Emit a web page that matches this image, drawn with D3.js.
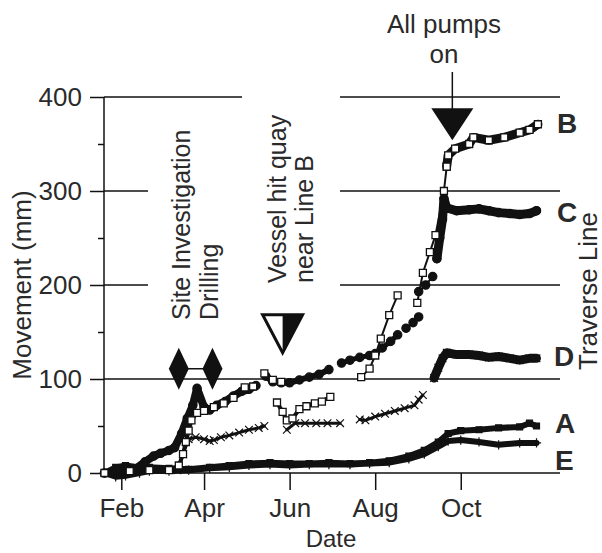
<!DOCTYPE html>
<html>
<head>
<meta charset="utf-8">
<script src="https://cdn.jsdelivr.net/npm/d3@7"></script>
<style>
body { margin: 0; background: #fff; }
text { font-family: "Liberation Sans", Arial, sans-serif; fill: #2a2a2a; }
</style>
</head>
<body>
<div id="chart"></div>
<script>
// values (year is nominal)
const monthTicks = ["2001-02-01", "2001-04-01", "2001-06-01", "2001-08-01", "2001-10-01"];
const monthLabels = ["Feb", "Apr", "Jun", "Aug", "Oct"];
const yTicks = [0, 100, 200, 300, 400];
const yMinor = [50, 150, 250, 350];

// Line B (open squares)
const bEarly = [["2001-01-20",0],["2001-02-07",2],["2001-02-21",3],["2001-03-07",3],["2001-03-14",8],["2001-03-17",20],["2001-03-19",33],["2001-03-21",45],["2001-03-23",56],["2001-03-27",64],["2001-04-01",66],["2001-04-08",70],["2001-04-15",74],["2001-04-22",80],["2001-04-30",91],["2001-05-06",92]];
const bJune = [["2001-05-14",106],["2001-05-20",99],["2001-05-26",97]];
const bVessel = [["2001-05-23",75],["2001-05-27",65],["2001-05-30",56],["2001-06-03",58],["2001-06-08",68],["2001-06-13",71],["2001-06-19",74],["2001-06-24",76],["2001-06-30",81]];
const bAug = [["2001-07-22",102],["2001-07-28",111],["2001-08-01",125],["2001-08-05",143],["2001-08-11",168],["2001-08-17",189]];
const bSep = [["2001-08-31",181],["2001-09-04",213],["2001-09-09",235],["2001-09-13",253],["2001-09-19",300],["2001-09-21",326]];
const bPumps = [["2001-09-21",326],["2001-09-22",338],["2001-09-27",345],["2001-10-07",350],["2001-10-10",357],["2001-10-21",354],["2001-11-01",357],["2001-11-12",362],["2001-11-19",365],["2001-11-25",371]];

// Line C (filled circles)
const cEarly = [["2001-01-20",0],["2001-01-31",1],["2001-02-10",3],["2001-02-18",12],["2001-02-24",18],["2001-03-01",21],["2001-03-07",24],["2001-03-11",27],["2001-03-16",42],["2001-03-20",58],["2001-03-24",72],["2001-03-27",90],["2001-04-01",70],["2001-04-05",67],["2001-04-10",72],["2001-04-16",76],["2001-04-22",82],["2001-04-28",87],["2001-05-03",89],["2001-05-08",93]];
const cJune = [["2001-05-15",103],["2001-05-20",97],["2001-05-26",96],["2001-06-01",96],["2001-06-08",99],["2001-06-15",102],["2001-06-22",105],["2001-06-29",110]];
const cAug = [["2001-07-08",117],["2001-07-14",120],["2001-07-21",123],["2001-07-28",125],["2001-08-01",127],["2001-08-06",133],["2001-08-12",140],["2001-08-17",147]];
const cSep = [["2001-08-23",154],["2001-08-28",160],["2001-09-01",166]];
const cRise = [["2001-09-01",193],["2001-09-06",200],["2001-09-11",209]];
const cPumps = [["2001-09-14",228],["2001-09-16",250],["2001-09-18",270],["2001-09-19",292],["2001-09-21",282],["2001-09-28",279],["2001-10-07",280],["2001-10-14",281],["2001-10-21",279],["2001-10-28",277],["2001-11-05",276],["2001-11-12",275],["2001-11-19",276],["2001-11-24",279]];

// Line D (crosses)
const dEarly = [["2001-03-13",3],["2001-03-17",20],["2001-03-21",36],["2001-03-26",38],["2001-04-01",36],["2001-04-05",34],["2001-04-08",35],["2001-04-13",38],["2001-04-19",40],["2001-04-26",43],["2001-05-03",46],["2001-05-10",48],["2001-05-14",50]];
const dJune = [["2001-05-30",46],["2001-06-05",53],["2001-06-12",53],["2001-06-20",53],["2001-06-28",53],["2001-07-07",53]];
const dAug = [["2001-07-21",57],["2001-07-25",56],["2001-08-01",60],["2001-08-08",63],["2001-08-15",66],["2001-08-22",69],["2001-08-29",72],["2001-09-01",78],["2001-09-04",83]];
const dPumps = [["2001-09-12",101],["2001-09-15",112],["2001-09-18",122],["2001-09-21",128],["2001-09-28",126],["2001-10-07",126],["2001-10-14",125],["2001-10-21",123],["2001-10-28",124],["2001-11-05",122],["2001-11-12",120],["2001-11-19",122],["2001-11-24",122]];

// Line A (filled squares)
const aLine = [["2001-01-20",0],["2001-01-28",6],["2001-02-04",8],["2001-02-14",6],["2001-02-21",6],["2001-03-07",5],["2001-03-21",4],["2001-04-05",6],["2001-04-19",8],["2001-05-03",10],["2001-05-18",11],["2001-06-01",10],["2001-06-15",10],["2001-06-29",11],["2001-07-14",10],["2001-07-28",11],["2001-08-11",13],["2001-08-25",18],["2001-09-05",24],["2001-09-15",33],["2001-09-22",42],["2001-10-01",45],["2001-10-14",46],["2001-10-28",48],["2001-11-12",49],["2001-11-19",53],["2001-11-24",50]];

// Line E (plus signs)
const eLine = [["2001-01-20",0],["2001-01-28",-4],["2001-02-04",-3],["2001-02-14",0],["2001-02-21",2],["2001-03-07",2],["2001-03-21",3],["2001-04-05",5],["2001-04-19",6],["2001-05-03",8],["2001-05-18",9],["2001-06-01",8],["2001-06-15",9],["2001-06-29",9],["2001-07-14",9],["2001-07-28",10],["2001-08-11",11],["2001-08-25",15],["2001-09-05",20],["2001-09-15",28],["2001-09-22",34],["2001-10-01",35],["2001-10-14",33],["2001-10-28",30],["2001-11-12",32],["2001-11-24",32]];

// events
const drillDates = ["2001-03-14", "2001-04-07"];
const drillLevel = 111;
const vesselDate = "2001-05-27";
const vesselLevel = 128;
const pumpsDate = "2001-09-25";
const pumpsLevel = 354;

const parse = d3.timeParse("%Y-%m-%d");

const svg = d3.select("#chart").append("svg")
    .attr("width", 602)
    .attr("height", 553);

const x = d3.scaleTime()
    .domain([new Date(2001, 0, 19, 16), new Date(2001, 11, 10, 18)])
    .range([104, 560]);
const y = d3.scaleLinear()
    .domain([0, 400])
    .range([473, 97]);

// gridlines
svg.append("g").selectAll("line")
    .data(yTicks)
    .join("line")
    .attr("x1", 104).attr("x2", 560)
    .attr("y1", d => y(d)).attr("y2", d => y(d))
    .attr("stroke", "#111").attr("stroke-width", 1.5);

// y axis
const yAxis = svg.append("g")
    .attr("transform", "translate(104,0)")
    .call(d3.axisLeft(y).tickValues(yTicks).tickSize(14).tickPadding(8));
yAxis.select(".domain").remove();
yAxis.selectAll("line").attr("stroke", "#111").attr("stroke-width", 1.5);
yAxis.selectAll("text").style("font-size", "26px").attr("fill", "#2a2a2a");

const yMinorAxis = svg.append("g")
    .attr("transform", "translate(104,0)")
    .call(d3.axisLeft(y).tickValues(yMinor).tickSize(6).tickFormat(""));
yMinorAxis.select(".domain").remove();
yMinorAxis.selectAll("line").attr("stroke", "#111").attr("stroke-width", 1.5);

svg.append("line")
    .attr("x1", 104).attr("x2", 104)
    .attr("y1", y(400)).attr("y2", y(0))
    .attr("stroke", "#111").attr("stroke-width", 1.5);

// x axis
const xAxis = svg.append("g")
    .attr("transform", "translate(0,473)")
    .call(d3.axisBottom(x)
        .tickValues(monthTicks.map(parse))
        .tickSize(17)
        .tickPadding(9)
        .tickFormat((d, i) => monthLabels[i]));
xAxis.select(".domain").remove();
xAxis.selectAll("line").attr("stroke", "#111").attr("stroke-width", 1.5);
xAxis.selectAll("text").style("font-size", "26px").attr("fill", "#2a2a2a");

// text boxes hide the gridlines behind the annotations
svg.append("rect").attr("x", 148).attr("y", 100).attr("width", 94).attr("height", 236).attr("fill", "#fff");
svg.append("rect").attr("x", 242).attr("y", 88).attr("width", 98).attr("height", 214).attr("fill", "#fff");

// series
const segments = [
    { pts: eLine, mark: "plus", band: 6 },
    { pts: aLine, mark: "fsquare", band: 6 },
    { pts: dEarly, mark: "times", band: 3 },
    { pts: dJune, mark: "times", band: 3 },
    { pts: dAug, mark: "times", band: 3 },
    { pts: dPumps, mark: "times", band: 9 },
    { pts: cEarly, mark: "circle", band: 8 },
    { pts: cJune, mark: "circle", band: 6 },
    { pts: cAug, mark: "circle", band: 5 },
    { pts: cSep, mark: "circle", band: 2 },
    { pts: cRise, mark: "circle", band: 2 },
    { pts: cPumps, mark: "circle", band: 9 },
    { pts: bEarly, mark: "square", band: 4 },
    { pts: bJune, mark: "square", band: 4 },
    { pts: bVessel, mark: "square", band: 4 },
    { pts: bAug, mark: "square", band: 2 },
    { pts: bSep, mark: "square", band: 2 },
    { pts: bPumps, mark: "square", band: 9 }
];

const line = d3.line()
    .x(d => x(parse(d[0])))
    .y(d => y(d[1]));

svg.append("g").selectAll("path")
    .data(segments)
    .join("path")
    .attr("d", d => line(d.pts))
    .attr("fill", "none")
    .attr("stroke", "#111")
    .attr("stroke-width", d => d.band)
    .attr("stroke-linejoin", "round")
    .attr("stroke-linecap", "round");

const symbols = {
    circle: d3.symbol(d3.symbolCircle, 55),
    square: d3.symbol(d3.symbolSquare, 49),
    fsquare: d3.symbol(d3.symbolSquare, 36),
    times: d3.symbol(d3.symbolTimes, 40),
    plus: d3.symbol(d3.symbolPlus, 30)
};

segments.forEach(seg => {
    svg.append("g").selectAll("path")
        .data(seg.pts)
        .join("path")
        .attr("transform", d => `translate(${x(parse(d[0]))},${y(d[1])})`)
        .attr("d", symbols[seg.mark]())
        .attr("fill", seg.mark === "square" ? "#fff" : (seg.mark === "times" || seg.mark === "plus") ? "none" : "#111")
        .attr("stroke", "#111")
        .attr("stroke-width", seg.mark === "square" ? 1.3 : 1.2);
});

// site investigation drilling diamonds
svg.append("line")
    .attr("x1", x(parse(drillDates[0]))).attr("x2", x(parse(drillDates[1])))
    .attr("y1", y(drillLevel)).attr("y2", y(drillLevel))
    .attr("stroke", "#111").attr("stroke-width", 1.5);
svg.append("g").selectAll("path")
    .data(drillDates)
    .join("path")
    .attr("transform", d => `translate(${x(parse(d))},${y(drillLevel)})`)
    .attr("d", "M0,-21L10,0L0,21L-10,0Z")
    .attr("fill", "#111");

// vessel hit quay: half open, half filled triangle
const vx = x(parse(vesselDate)), vy = y(vesselLevel);
svg.append("path")
    .attr("d", `M${vx - 20},${vy - 38}L${vx + 20},${vy - 38}L${vx},${vy}Z`)
    .attr("fill", "#fff").attr("stroke", "#111").attr("stroke-width", 3)
    .attr("stroke-linejoin", "miter");
svg.append("path")
    .attr("d", `M${vx},${vy - 38}L${vx + 20},${vy - 38}L${vx},${vy}Z`)
    .attr("fill", "#111");

// all pumps on
const px = x(parse(pumpsDate)), py = y(pumpsLevel);
svg.append("line")
    .attr("x1", px).attr("x2", px)
    .attr("y1", 72).attr("y2", py - 30)
    .attr("stroke", "#111").attr("stroke-width", 1.5);
svg.append("path")
    .attr("d", `M${px - 21},${py - 32}L${px + 21},${py - 32}L${px},${py}Z`)
    .attr("fill", "#111");

// annotation texts
svg.append("text").attr("transform", "translate(190,320) rotate(-90)")
    .style("font-size", "25px").text("Site Investigation");
svg.append("text").attr("transform", "translate(218,320) rotate(-90)")
    .style("font-size", "25px").text("Drilling");
svg.append("text").attr("transform", "translate(286,283) rotate(-90)")
    .style("font-size", "25px").text("Vessel hit quay");
svg.append("text").attr("transform", "translate(313,283) rotate(-90)")
    .style("font-size", "25px").text("near Line B");
svg.append("text").attr("x", 444).attr("y", 33).attr("text-anchor", "middle")
    .style("font-size", "26px").text("All pumps");
svg.append("text").attr("x", 444).attr("y", 63).attr("text-anchor", "middle")
    .style("font-size", "26px").text("on");

// series labels
const seriesLabels = [["B", 557, 133], ["C", 557, 222], ["D", 554, 366], ["A", 555, 433], ["E", 555, 470]];
svg.append("g").selectAll("text")
    .data(seriesLabels)
    .join("text")
    .attr("x", d => d[1]).attr("y", d => d[2])
    .style("font-size", "28px").style("font-weight", "bold")
    .text(d => d[0]);

// axis titles
svg.append("text")
    .attr("transform", "translate(31,285) rotate(-90)")
    .attr("text-anchor", "middle")
    .style("font-size", "26px")
    .text("Movement (mm)");
svg.append("text")
    .attr("transform", "translate(597,291) rotate(-90)")
    .attr("text-anchor", "middle")
    .style("font-size", "26px")
    .text("Traverse Line");
svg.append("text")
    .attr("x", 331).attr("y", 547)
    .attr("text-anchor", "middle")
    .style("font-size", "24px")
    .text("Date");
</script>
</body>
</html>
